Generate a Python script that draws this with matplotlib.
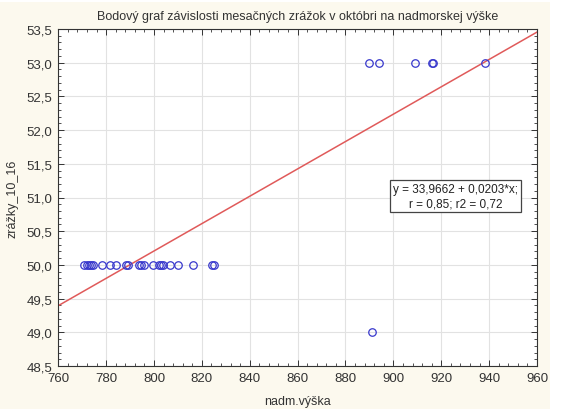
import matplotlib
matplotlib.use("Agg")
import matplotlib.pyplot as plt
from matplotlib.ticker import MultipleLocator, FuncFormatter
from matplotlib.patches import Rectangle
import numpy as np

plt.rcParams['font.family'] = ['Liberation Sans', 'DejaVu Sans']

# altitude (m) and October precipitation
vyska = [770.9, 771.9, 772.9, 773.8, 774.7, 778.2, 781.7, 784.1, 788.4, 789.1,
         793.9, 794.6, 796.0, 799.4, 802.1, 802.9, 803.9, 806.7, 809.9, 816.3,
         824.4, 825.2,
         890.0, 894.2, 909.0, 916.0, 916.5, 938.2,
         891.2]
zrazky = [50.0] * 22 + [53.0] * 6 + [49.0]

# regression line y = a + b*x
intercept = 33.9662
slope = 0.0203
r_val = "0,85"
r2_val = "0,72"

title = "Bodový graf závislosti mesačných zrážok v októbri na nadmorskej výške"
xlabel = "nadm.výška"
ylabel = "zrážky_10_16"

bg = "#fcf9ee"
fig = plt.figure(figsize=(5.71, 4.10), dpi=100, facecolor=bg)
# white margin strip on the right
fig.patches.append(Rectangle((550 / 571, 0), 1, 1, transform=fig.transFigure,
                             facecolor="white", edgecolor="none", zorder=-1))
fig.patches.append(Rectangle((0, 1 - 3 / 410), 1, 1, transform=fig.transFigure,
                             facecolor="white", edgecolor="none", zorder=-1))

ax = fig.add_axes([58.2 / 571, 1 - 367 / 410, (537 - 58.2) / 571, (367 - 30) / 410])
ax.set_facecolor("white")

ax.set_xlim(760, 960)
ax.set_ylim(48.5, 53.5)

xs = np.array([760, 960])
ax.plot(xs, intercept + slope * xs, color="#e05a5a", lw=1.1, zorder=2)
ax.plot(vyska, zrazky, linestyle="none", marker="o", markersize=5.4,
        markerfacecolor="none", markeredgecolor="#3838cc", markeredgewidth=0.9,
        zorder=3, clip_on=False)

ax.xaxis.set_major_locator(MultipleLocator(20))
ax.xaxis.set_minor_locator(MultipleLocator(4))
ax.yaxis.set_major_locator(MultipleLocator(0.5))
ax.yaxis.set_minor_locator(MultipleLocator(0.1))
ax.yaxis.set_major_formatter(FuncFormatter(lambda v, p: f"{v:.1f}".replace(".", ",")))
ax.xaxis.set_major_formatter(FuncFormatter(lambda v, p: f"{v:.0f}"))

ax.grid(True, which="major", color="#e2e2e2", lw=0.8, zorder=0)
ax.set_axisbelow(True)
ax.tick_params(which="both", direction="in", top=True, right=True,
               labelsize=9.5, colors="#333333", labelcolor="#333333")
ax.tick_params(which="major", length=4, width=0.7, pad=4)
ax.tick_params(which="minor", length=2, width=0.6)
for s in ax.spines.values():
    s.set_color("#333333")
    s.set_linewidth(0.8)

ax.set_title(title, fontsize=9, color="#333333", pad=7)
ax.set_xlabel(xlabel, fontsize=9, color="#333333", labelpad=8)
ax.set_ylabel(ylabel, fontsize=9, color="#333333", labelpad=6)

label = (f"y = {intercept:.4f} + {slope:.4f}*x;\n"
         f"r = {r_val}; r2 = {r2_val}").replace(".", ",")
ax.text(926, 51.02, label, ha="center", va="center", fontsize=8.5,
        color="#222222", linespacing=1.2, zorder=4,
        bbox=dict(boxstyle="square,pad=0.25", facecolor="white",
                  edgecolor="#444444", lw=0.9))

fig.savefig("out.png", dpi=100, facecolor=fig.get_facecolor())
